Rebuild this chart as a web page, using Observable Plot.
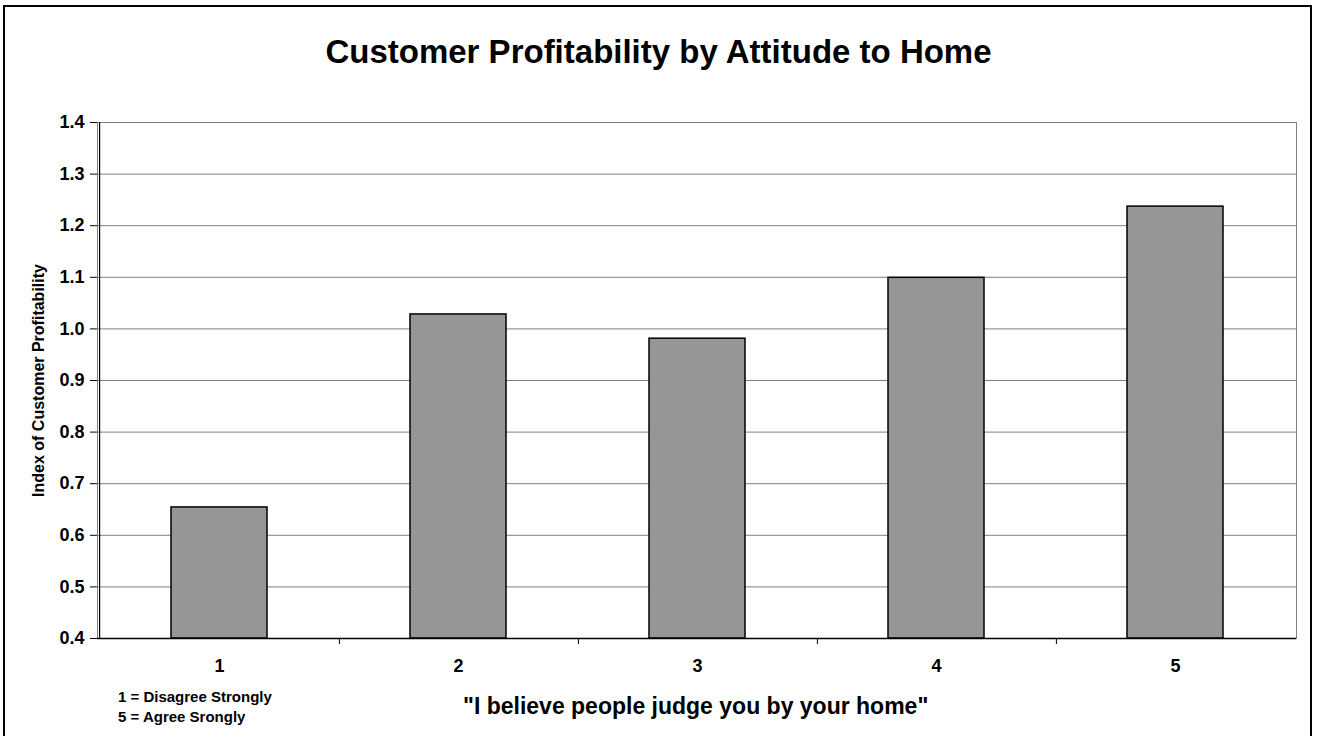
<!DOCTYPE html>
<html>
<head>
<meta charset="utf-8">
<script src="https://cdn.jsdelivr.net/npm/d3@7"></script>
<script src="https://cdn.jsdelivr.net/npm/@observablehq/plot@0.6"></script>
<style>
  html, body { margin: 0; padding: 0; background: #fff; overflow: hidden; }
  #wrap { position: relative; width: 1317px; height: 736px; font-family: Arial, "Liberation Sans", sans-serif; font-weight: bold; color: #000; }
  #border { position: absolute; left: 3px; top: 5px; width: 1305px; height: 740px; border: 2px solid #000; box-sizing: content-box; }
  #title { position: absolute; left: 0; width: 1317px; top: 33px; text-align: center; font-size: 33px; line-height: 38px; }
  #note { position: absolute; left: 118px; top: 687px; font-size: 15px; line-height: 20px; }
  #xlabel { position: absolute; left: 463px; top: 693px; font-size: 23px; line-height: 26px; }
  #chart { position: absolute; left: 0; top: 0; }
</style>
</head>
<body>
<div id="wrap">
  <div id="chart"></div>
  <div id="border"></div>
  <div id="title"></div>
  <div id="note"></div>
  <div id="xlabel"></div>
</div>
<script>
const titleText = "Customer Profitability by Attitude to Home";
const yLabelText = "Index of Customer Profitability";
const xLabelText = "\"I believe people judge you by your home\"";
const noteLines = ["1 = Disagree Strongly", "5 = Agree Srongly"];

const categories = ["1", "2", "3", "4", "5"];
const values = [0.654, 1.028, 0.981, 1.099, 1.237];
const yTicks = [0.4, 0.5, 0.6, 0.7, 0.8, 0.9, 1.0, 1.1, 1.2, 1.3, 1.4];
const yMin = 0.4, yMax = 1.4;

document.getElementById("title").textContent = titleText;
document.getElementById("xlabel").textContent = xLabelText;
document.getElementById("note").innerHTML = noteLines.map(s => `<div>${s}</div>`).join("");

const data = categories.map((c, i) => ({cat: c, value: values[i]}));

const W = 1317, H = 736;
const mL = 97, mR = 21, mT = 122, mB = 98;
const step = (W - mL - mR) / categories.length;

const chart = Plot.plot({
  width: W,
  height: H,
  marginLeft: mL,
  marginRight: mR,
  marginTop: mT,
  marginBottom: mB,
  style: {fontFamily: "Arial, 'Liberation Sans', sans-serif", fontWeight: "bold", fontSize: "18px", background: "transparent", color: "#000"},
  x: {type: "band", domain: categories, paddingInner: 0.6, paddingOuter: 0.3, label: null},
  y: {domain: [yMin, yMax], label: null},
  marks: [
    Plot.gridY(yTicks, {stroke: "#808080", strokeOpacity: 1, strokeWidth: 1}),
    Plot.frame({stroke: "#808080", strokeWidth: 1}),
    Plot.barY(data, {x: "cat", y1: yMin, y2: "value", fill: "#969696", stroke: "#000", strokeWidth: 1.5}),
    Plot.ruleY([yMin], {stroke: "#000", strokeWidth: 1.5}),
    Plot.ruleX([categories[0]], {dx: -step / 2, stroke: "#000", strokeWidth: 1.2}),
    Plot.axisY(yTicks, {tickSize: 7, tickPadding: 6, tickFormat: d3.format(".1f"), label: null, stroke: "#000"}),
    Plot.axisX(categories.slice(0, -1), {tickSize: 6, tickFormat: () => "", dx: step / 2, label: null, stroke: "#000"}),
    Plot.axisX(categories, {tickSize: 0, tickPadding: 21, label: null}),
    Plot.text([yLabelText], {frameAnchor: "left", textAnchor: "middle", rotate: -90, dx: -59, fontSize: 16, fontWeight: "bold", fill: "#000"})
  ]
});
document.getElementById("chart").appendChild(chart);
</script>
</body>
</html>
